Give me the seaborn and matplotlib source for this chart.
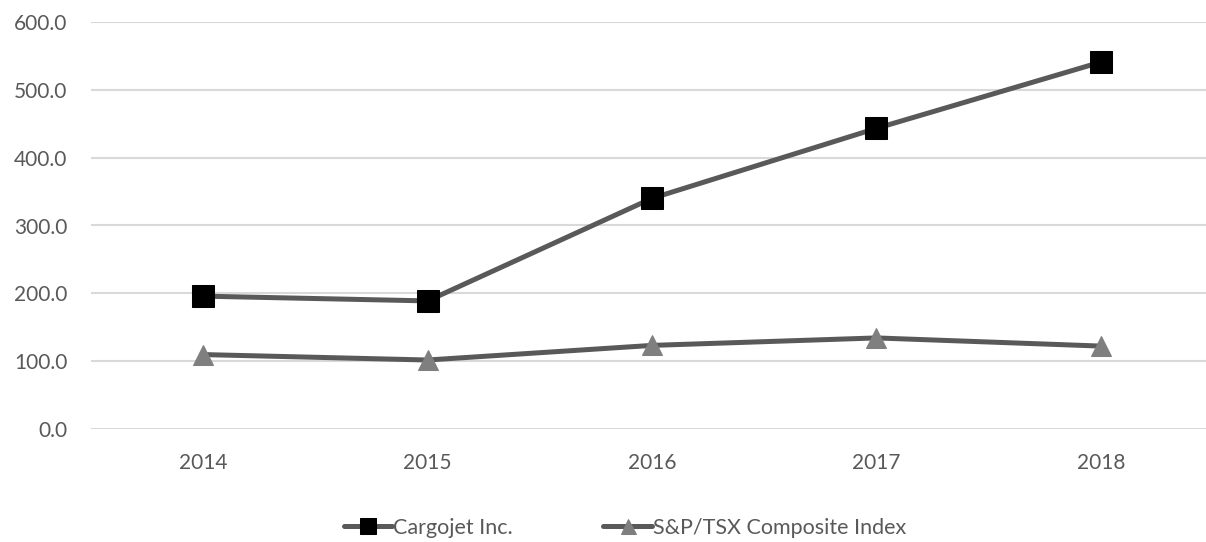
import matplotlib
matplotlib.use("Agg")
import matplotlib.pyplot as plt
import seaborn as sns
import pandas as pd
import numpy as np

years = ["2014", "2015", "2016", "2017", "2018"]
cargojet = [196.0, 189.0, 340.0, 443.0, 540.5]
sptsx = [110.0, 102.0, 123.5, 134.5, 122.5]
series_names = ["Cargojet Inc.", "S&P/TSX Composite Index"]

sns.set_theme(style="white")
plt.rcParams['font.family'] = ['Lato', 'DejaVu Sans']

W, H = 1206, 542
fig = plt.figure(figsize=(W / 100, H / 100), dpi=100)
left, right = 91, 1213
top, bottom = 21.7, 429.3
ax = fig.add_axes([left / W, (H - bottom) / H, (right - left) / W, (bottom - top) / H])

df = pd.DataFrame({
    "x": list(range(len(years))) * 2,
    "value": cargojet + sptsx,
    "series": [series_names[0]] * len(years) + [series_names[1]] * len(years),
})

line_col = "#595959"
sns.lineplot(data=df[df.series == series_names[0]], x="x", y="value", ax=ax,
             color=line_col, linewidth=3.6, marker="s", markersize=16,
             markerfacecolor="black", markeredgecolor="black", label=series_names[0])
sns.lineplot(data=df[df.series == series_names[1]], x="x", y="value", ax=ax,
             color=line_col, linewidth=3.6, marker="^", markersize=15,
             markerfacecolor="#7f7f7f", markeredgecolor="#7f7f7f", label=series_names[1])

ax.set_xlim(-0.5, 4.5)
ax.set_ylim(0, 600)
ax.set_yticks(np.arange(0, 601, 100))
ax.set_yticklabels([f"{v:.1f}" for v in np.arange(0, 601, 100)])
ax.set_xticks(range(len(years)))
ax.set_xticklabels(years)
ax.yaxis.grid(True, color="#d9d9d9", linewidth=1.5)
ax.xaxis.grid(False)
for s in ax.spines.values():
    s.set_visible(False)
ax.tick_params(axis="both", length=0, labelsize=15, colors="#595959")
ax.tick_params(axis="y", pad=17)
ax.tick_params(axis="x", pad=17)
ax.set_xlabel("")
ax.set_ylabel("")

leg = ax.legend(loc="center", bbox_to_anchor=(625 / W, (H - 528) / H), bbox_transform=fig.transFigure,
                ncol=2, frameon=False, fontsize=15.5, handlelength=2.25, handletextpad=0.05,
                columnspacing=4.2, markerscale=0.72)
for t in leg.get_texts():
    t.set_color("#595959")

fig.savefig("out.png", dpi=100)
